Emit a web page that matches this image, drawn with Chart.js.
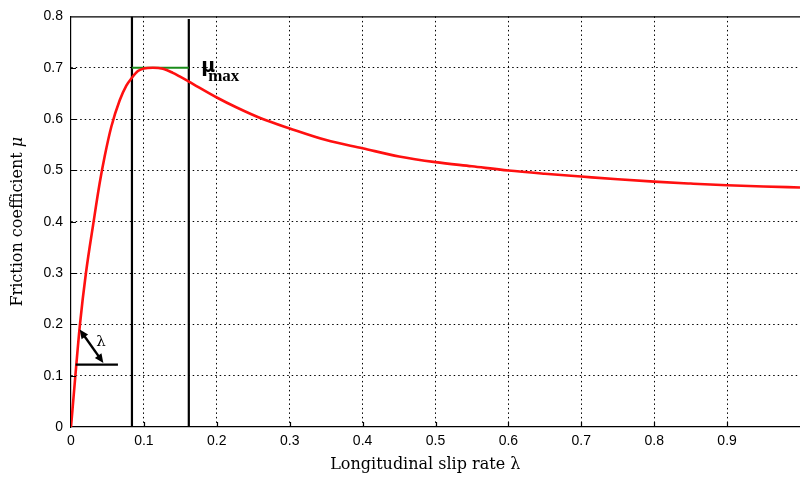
<!DOCTYPE html>
<html><head><meta charset="utf-8">
<script src="https://cdn.jsdelivr.net/npm/chart.js@4.4.1/dist/chart.umd.min.js"></script>
<style>html,body{margin:0;padding:0;background:#fff;}canvas{display:block;}</style>
</head><body>
<canvas id="c" width="800" height="479"></canvas>
<script>
// ---- data ----
const slipRate = [0, 0.006, 0.0123, 0.0205, 0.031, 0.0393, 0.0463, 0.0553, 0.0667, 0.0759, 0.0836, 0.0918, 0.1, 0.1123, 0.126, 0.1397, 0.149, 0.1616, 0.2, 0.2266, 0.263, 0.3, 0.35, 0.4, 0.45, 0.5, 0.55, 0.6, 0.65, 0.7, 0.75, 0.8, 0.85, 0.9, 0.95, 1.0];
const friction = [0, 0.1, 0.2, 0.3, 0.4, 0.475, 0.528, 0.585, 0.636, 0.665, 0.6806, 0.6935, 0.6986, 0.7, 0.698, 0.69, 0.683, 0.673, 0.642, 0.623, 0.6, 0.5817, 0.559, 0.543, 0.527, 0.516, 0.508, 0.4998, 0.4935, 0.488, 0.4826, 0.478, 0.4743, 0.471, 0.4686, 0.4667];
const xTickValues = [0, 0.1, 0.2, 0.3, 0.4, 0.5, 0.6, 0.7, 0.8, 0.9];
const xTickLabels = ['0', '0.1', '0.2', '0.3', '0.4', '0.5', '0.6', '0.7', '0.8', '0.9'];
const yTickValues = [0, 0.1, 0.2, 0.3, 0.4, 0.5, 0.6, 0.7, 0.8];
const yTickLabels = ['0', '0.1', '0.2', '0.3', '0.4', '0.5', '0.6', '0.7', '0.8'];
const peakBounds = [0.0836, 0.1616];    // slip rates of the two vertical lines
const peakLineTops = [0.8, 0.795];      // top friction values of those lines
const muMax = 0.7;
const slopeBaseX = [0.0064, 0.0644];
const slopeBaseY = 0.1216;
const slopeArrowX = [0.0119, 0.0444];
const slopeArrowY = [0.19, 0.1247];
const slopeLabel = {x: 0.041, y: 0.166, text: 'λ'};
const muMaxLabel = {x: 0.1785, y: 0.692, text: 'μ', sub: 'max'};
const xTitle = 'Longitudinal slip rate λ';
const yTitleMain = 'Friction coefficient ';
const yTitleSym = 'μ';

const curve = slipRate.map((v, i) => ({x: v, y: friction[i]}));
const vLine = (k) => [{x: peakBounds[k], y: 0}, {x: peakBounds[k], y: peakLineTops[k]}];
const greenLine = [{x: peakBounds[0], y: muMax}, {x: peakBounds[1], y: muMax}];

const TITLE_FONT = '"DejaVu Serif"';
const TITLE_SIZE = 16;

const decor = {
  id: 'decor',
  afterDraw(chart) {
    const {ctx, chartArea: a, scales: {x, y}} = chart;
    ctx.save();
    ctx.strokeStyle = '#000';
    ctx.lineWidth = 1.2;
    ctx.setLineDash([]);
    ctx.beginPath();
    ctx.moveTo(a.left, a.top + 0.5); ctx.lineTo(a.right, a.top + 0.5);
    xTickValues.forEach(v => {
      if (v <= 0) return;
      const px = Math.round(x.getPixelForValue(v)) + 0.5;
      ctx.moveTo(px, a.bottom); ctx.lineTo(px, a.bottom - 5);
    });
    yTickValues.forEach(v => {
      if (v <= 0 || v >= 0.8) return;
      const py = Math.round(y.getPixelForValue(v)) + 0.5;
      ctx.moveTo(a.left, py); ctx.lineTo(a.left + 5, py);
    });
    ctx.stroke();

    // slope annotation base line
    ctx.lineWidth = 2.4;
    ctx.beginPath();
    ctx.moveTo(x.getPixelForValue(slopeBaseX[0]), y.getPixelForValue(slopeBaseY));
    ctx.lineTo(x.getPixelForValue(slopeBaseX[1]), y.getPixelForValue(slopeBaseY));
    ctx.stroke();
    // double arrow
    const x1 = x.getPixelForValue(slopeArrowX[0]), y1 = y.getPixelForValue(slopeArrowY[0]);
    const x2 = x.getPixelForValue(slopeArrowX[1]), y2 = y.getPixelForValue(slopeArrowY[1]);
    const ang = Math.atan2(y2 - y1, x2 - x1);
    const hl = 9, hw = 4;
    const head = (px, py, dir) => {
      const c = Math.cos(dir), s = Math.sin(dir);
      ctx.beginPath();
      ctx.moveTo(px, py);
      ctx.lineTo(px - hl * c + hw * s, py - hl * s - hw * c);
      ctx.lineTo(px - hl * c - hw * s, py - hl * s + hw * c);
      ctx.closePath();
      ctx.fill();
    };
    ctx.fillStyle = '#000';
    ctx.lineWidth = 2.4;
    ctx.beginPath();
    ctx.moveTo(x1 + 5 * Math.cos(ang), y1 + 5 * Math.sin(ang));
    ctx.lineTo(x2 - 5 * Math.cos(ang), y2 - 5 * Math.sin(ang));
    ctx.stroke();
    head(x2, y2, ang);
    head(x1, y1, ang + Math.PI);

    // labels
    ctx.textBaseline = 'middle';
    ctx.textAlign = 'center';
    ctx.font = '15px "DejaVu Serif"';
    ctx.fillText(slopeLabel.text, x.getPixelForValue(slopeLabel.x), y.getPixelForValue(slopeLabel.y));

    ctx.textAlign = 'left';
    ctx.textBaseline = 'alphabetic';
    const mx = x.getPixelForValue(muMaxLabel.x), my = y.getPixelForValue(muMaxLabel.y);
    ctx.font = 'bold 19px "DejaVu Sans"';
    ctx.fillText(muMaxLabel.text, mx, my);
    ctx.font = 'bold 17px "Liberation Serif"';
    ctx.fillText(muMaxLabel.sub, mx + 7, my + 9);

    // x title
    ctx.font = TITLE_SIZE + 'px ' + TITLE_FONT;
    ctx.textAlign = 'center';
    ctx.textBaseline = 'middle';
    ctx.fillText(xTitle, a.left + (a.right - a.left) * 0.486, 465);

    // y title
    ctx.translate(18, (a.top + a.bottom) / 2);
    ctx.rotate(-Math.PI / 2);
    ctx.font = TITLE_SIZE + 'px ' + TITLE_FONT;
    const w1 = ctx.measureText(yTitleMain).width;
    ctx.font = 'italic ' + TITLE_SIZE + 'px ' + TITLE_FONT;
    const w2 = ctx.measureText(yTitleSym).width;
    const start = -(w1 + w2) / 2;
    ctx.textAlign = 'left';
    ctx.font = TITLE_SIZE + 'px ' + TITLE_FONT;
    ctx.fillText(yTitleMain, start, 0);
    ctx.font = 'italic ' + TITLE_SIZE + 'px ' + TITLE_FONT;
    ctx.fillText(yTitleSym, start + w1, 0);
    ctx.restore();
  }
};

new Chart(document.getElementById('c'), {
  type: 'scatter',
  data: {
    datasets: [
      {data: curve, showLine: true, borderColor: '#ff1010', borderWidth: 2.6, pointRadius: 0, cubicInterpolationMode: 'monotone'},
      {data: greenLine, showLine: true, borderColor: '#1a8c1a', borderWidth: 2.2, pointRadius: 0},
      {data: vLine(0), showLine: true, borderColor: '#000', borderWidth: 2.2, pointRadius: 0},
      {data: vLine(1), showLine: true, borderColor: '#000', borderWidth: 2.2, pointRadius: 0}
    ]
  },
  options: {
    responsive: false,
    animation: false,
    events: [],
    layout: {padding: {top: 9, right: 0, left: 0, bottom: 0}},
    plugins: {legend: {display: false}, tooltip: {enabled: false}},
    scales: {
      x: {
        type: 'linear', min: 0, max: 1,
        afterBuildTicks: s => { s.ticks = xTickValues.map(v => ({value: v})); },
        ticks: {
          padding: 6, color: '#000', maxRotation: 0, autoSkip: false,
          font: {family: '"Liberation Sans"', size: 14},
          callback: (v, i) => xTickLabels[i]
        },
        grid: {color: c => (c.tick && c.tick.value > 0) ? '#000' : 'rgba(0,0,0,0)', lineWidth: 1, drawTicks: false},
        border: {display: true, color: '#000', width: 1.2, dash: [1.5, 3]},
        afterFit: s => { s.height = 52; }
      },
      y: {
        type: 'linear', min: 0, max: 0.8,
        afterBuildTicks: s => { s.ticks = yTickValues.map(v => ({value: v})); },
        ticks: {
          padding: 8, color: '#000', autoSkip: false,
          font: {family: '"Liberation Sans"', size: 14},
          callback: (v, i) => yTickLabels[i]
        },
        grid: {color: c => (c.tick && c.tick.value > 0 && c.tick.value < 0.8) ? '#000' : 'rgba(0,0,0,0)', lineWidth: 1, drawTicks: false},
        border: {display: true, color: '#000', width: 1.2, dash: [1.5, 3]},
        afterFit: s => { s.width = 71; }
      }
    }
  },
  plugins: [decor]
});
</script>
</body></html>
